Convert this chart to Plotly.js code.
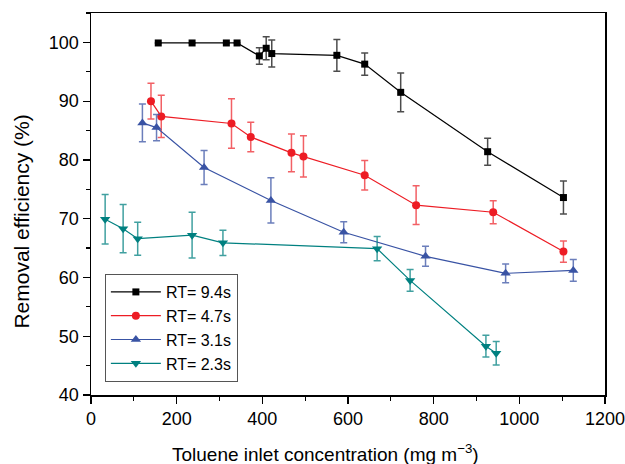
<!DOCTYPE html>
<html>
<head>
<meta charset="utf-8">
<script src="https://cdn.plot.ly/plotly-3.0.1.min.js"></script>
<style>html,body{margin:0;padding:0;background:#fff;}#chart{width:625px;height:464px;}</style>
</head>
<body>
<div id="chart"></div>
<script>
// RT = 9.4 s
const x94 = [157, 236, 316, 341, 393, 409, 422, 574, 639, 723, 926, 1103];
const y94 = [99.9, 99.9, 99.9, 99.9, 97.7, 99.0, 98.1, 97.8, 96.3, 91.5, 81.4, 73.6];
const e94 = [null, null, null, null, 1.4, 1.95, 2.3, 2.7, 1.9, 3.3, 2.3, 2.8];
// RT = 4.7 s
const x47 = [140, 164, 328, 373, 468, 496, 639, 759, 939, 1103];
const y47 = [90.0, 87.4, 86.2, 83.9, 81.2, 80.6, 77.4, 72.3, 71.1, 64.4];
const e47 = [3.05, 3.6, 4.2, 2.5, 3.2, 3.5, 2.5, 3.3, 1.95, 1.8];
// RT = 3.1 s
const x31 = [120, 153, 264, 420, 590, 781, 968, 1126];
const y31 = [86.3, 85.5, 78.7, 73.1, 67.7, 63.6, 60.7, 61.2];
const e31 = [3.2, 2.25, 2.9, 3.85, 1.8, 1.7, 1.6, 1.85];
// RT = 2.3 s
const x23 = [33, 75, 109, 236, 308, 668, 745, 922, 946];
const y23 = [69.9, 68.3, 66.6, 67.2, 65.9, 64.9, 59.5, 48.3, 47.1];
const e23 = [4.2, 4.1, 2.8, 3.9, 2.15, 2.05, 1.85, 1.85, 2.0];

const names = ['RT= 9.4s', 'RT= 4.7s', 'RT= 3.1s', 'RT= 2.3s'];
const xTitle = 'Toluene inlet concentration (mg m<sup>\u22123</sup>)';
const yTitle = 'Removal efficiency (%)';

function tr(x, y, e, name, color, ecolor, symbol, size) {
  return {
    x: x, y: y, name: name, type: 'scatter', mode: 'lines+markers',
    line: {color: color, width: 1.2},
    marker: {color: color, symbol: symbol, size: size},
    error_y: {type: 'data', array: e, visible: true, color: ecolor, thickness: 1.5, width: 3.5}
  };
}

const data = [
  tr(x94, y94, e94, names[0], '#000000', 'rgba(0,0,0,0.7)', 'square', 7),
  tr(x47, y47, e47, names[1], '#ed1c24', 'rgba(237,28,36,0.7)', 'circle', 8),
  tr(x31, y31, e31, names[2], '#3953a4', 'rgba(57,83,164,0.75)', 'triangle-up', 9),
  tr(x23, y23, e23, names[3], '#008080', 'rgba(0,128,128,0.75)', 'triangle-down', 9)
];

const font = 'Liberation Sans, Arial, Helvetica, sans-serif';
const layout = {
  width: 625, height: 464,
  margin: {l: 91, r: 20, t: 13, b: 69},
  paper_bgcolor: '#fff', plot_bgcolor: '#fff',
  font: {family: font, color: '#000', size: 16},
  showlegend: true,
  legend: {x: 0.027, y: 0.034, xanchor: 'left', yanchor: 'bottom',
    bordercolor: '#555', borderwidth: 1, bgcolor: '#fff', itemwidth: 50,
    font: {family: font, size: 16, color: '#000'}, tracegroupgap: 0},
  xaxis: {
    range: [0, 1200], dtick: 200, tick0: 0,
    ticks: 'outside', ticklen: 7, tickwidth: 1.2, tickcolor: '#000',
    minor: {dtick: 100, ticks: 'outside', ticklen: 4, tickwidth: 1.2, tickcolor: '#000'},
    showline: true, linecolor: '#000', linewidth: 1.5, mirror: true,
    showgrid: false, zeroline: false, ticklabeloverflow: 'allow',
    tickfont: {family: font, size: 18, color: '#000'}
  },
  yaxis: {
    range: [40, 105], dtick: 10, tick0: 40,
    ticks: 'outside', ticklen: 7, tickwidth: 1.2, tickcolor: '#000',
    minor: {dtick: 5, ticks: 'outside', ticklen: 4, tickwidth: 1.2, tickcolor: '#000'},
    showline: true, linecolor: '#000', linewidth: 1.5, mirror: true,
    showgrid: false, zeroline: false, ticklabeloverflow: 'allow',
    tickfont: {family: font, size: 18, color: '#000'}
  },
  annotations: [
    {text: xTitle, xref: 'paper', yref: 'paper', x: 0.456, y: 0, xanchor: 'center', yanchor: 'middle',
     yshift: -58, showarrow: false, font: {family: font, size: 19, color: '#000'}},
    {text: yTitle, xref: 'paper', yref: 'paper', x: 0, y: 0.454, xanchor: 'center', yanchor: 'middle',
     xshift: -69, textangle: -90, showarrow: false, font: {family: font, size: 21, color: '#000'}}
  ]
};

Plotly.newPlot('chart', data, layout, {displayModeBar: false, staticPlot: true});
</script>
</body>
</html>
